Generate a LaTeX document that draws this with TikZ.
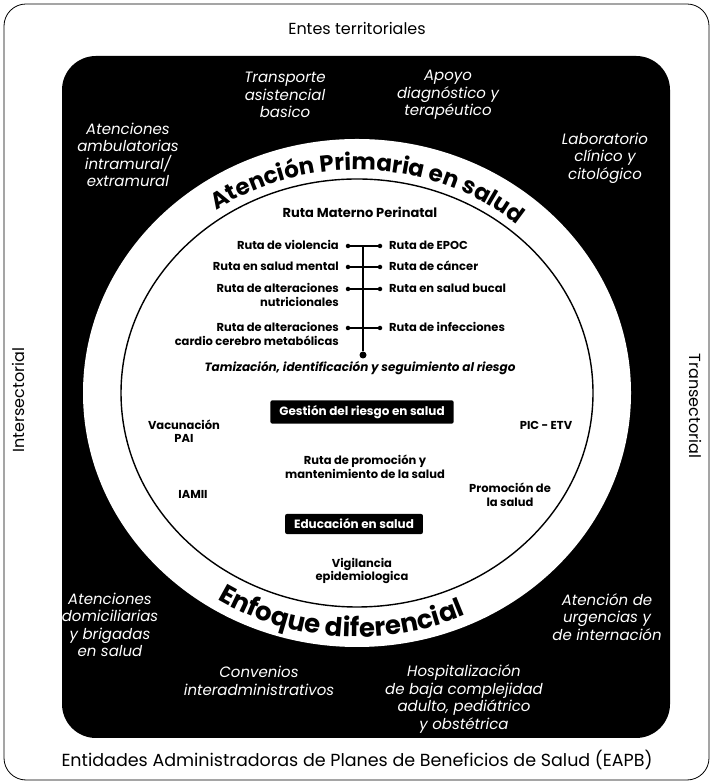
\documentclass[tikz,border=0pt]{standalone}
\usepackage{fontspec}
\setmainfont{Poppins}
\usetikzlibrary{decorations.text}

\begin{document}
\begin{tikzpicture}[x=1pt,y=1pt,
    whitelabel/.style={text=white, font=\itshape\fontsize{15}{17.5}\selectfont, align=center},
    ruta/.style={font=\bfseries\fontsize{11.5}{13.5}\selectfont, inner sep=0pt},
    rutadot/.style={circle, fill=black, inner sep=0pt, minimum size=4.5pt},
    blackbox/.style={fill=black, rounded corners=2pt, text=white, font=\bfseries\fontsize{12}{14}\selectfont, inner xsep=9pt, inner ysep=5pt},
    sidelabel/.style={font=\fontsize{16}{18}\selectfont}]

    \useasboundingbox (0,0) rectangle (713,783);
%   frames
    \draw[line width=0.8pt, rounded corners=22pt] (4,3) rectangle (709,779);
    \fill[black, rounded corners=34pt] (62,45) rectangle (670,727);
    \fill[white] (357,390) ellipse [x radius=274, y radius=254];
    \draw[line width=1.4pt] (357,390) ellipse [x radius=236, y radius=214];

%   outer labels
    \node[sidelabel] (entes) at (357,755) {Entes territoriales};
    \node[sidelabel, font=\fontsize{17.5}{19}\selectfont] (eapb) at (357,23) {Entidades Administradoras de Planes de Beneficios de Salud (EAPB)};
    \node[sidelabel, rotate=90] (inter) at (18,383) {Intersectorial};
    \node[sidelabel, rotate=-90] (trans) at (696,377) {Transectorial};

%   services on black
    \node[whitelabel] (transporte) at (285,688) {Transporte\\asistencial\\basico};
    \node[whitelabel] (apoyo) at (448,688) {Apoyo\\diagnóstico y\\terapéutico};
    \node[whitelabel] (ambulatorias) at (128,628) {Atenciones\\ambulatorias\\intramural/\\extramural};
    \node[whitelabel] (laboratorio) at (605,625) {Laboratorio\\clínico y\\citológico};
    \node[whitelabel] (domiciliarias) at (110,158) {Atenciones\\domiciliarias\\y brigadas\\en salud};
    \node[whitelabel] (urgencias) at (607,166) {Atención de\\urgencias y\\de internación};
    \node[whitelabel] (convenios) at (259,102) {Convenios\\interadministrativos};
    \node[whitelabel] (hospital) at (464,84) {Hospitalización\\de baja complejidad\\adulto, pediátrico\\y obstétrica};

%   ring texts
    \path[decorate, decoration={text along path, text align=center,
        text={|\bfseries\fontsize{23}{25}\selectfont|Atención Primaria en salud}}]
        (357,390) ++(147:244pt and 223pt) arc[start angle=147, end angle=27, x radius=244, y radius=223];
    \path[decorate, decoration={text along path, text align=center,
        text={|\bfseries\fontsize{26}{28}\selectfont|Enfoque diferencial}}]
        (357,390) ++(211:262pt and 244pt) arc[start angle=211, end angle=321, x radius=262, y radius=244];

%   routes
    \node[ruta, font=\bfseries\fontsize{13}{15}\selectfont] (materno) at (360,571) {Ruta Materno Perinatal};

    \node[rutadot] (l1) at (348,537) {};
    \node[rutadot] (l2) at (348,516) {};
    \node[rutadot] (l3) at (348,494) {};
    \node[rutadot] (l4) at (348,455) {};
    \node[rutadot] (r1) at (380,537) {};
    \node[rutadot] (r2) at (380,516) {};
    \node[rutadot] (r3) at (380,494) {};
    \node[rutadot] (r4) at (380,455) {};
    \coordinate (spinetop) at (363,537);
    \node[rutadot, minimum size=7pt] (spineend) at (363,428) {};
    \foreach \i in {1,...,4} {
        \draw[line width=1.3pt] (l\i) -- (r\i);
    }
    \draw[line width=2pt] (spinetop) -- (spineend);

    \node[ruta, anchor=base east] (violencia) at (339,533) {Ruta de violencia};
    \node[ruta, anchor=base east] (mental) at (339,512) {Ruta en salud mental};
    \node[ruta, anchor=base east, align=right] (nutri) at (339,476.5) {Ruta de alteraciones\\nutricionales};
    \node[ruta, anchor=base east, align=right] (cardio) at (339,437.5) {Ruta de alteraciones\\cardio cerebro metabólicas};
    \node[ruta, anchor=base west] (epoc) at (389,533) {Ruta de EPOC};
    \node[ruta, anchor=base west] (cancer) at (389,512) {Ruta de cáncer};
    \node[ruta, anchor=base west] (bucal) at (389,490) {Ruta en salud bucal};
    \node[ruta, anchor=base west] (infecciones) at (389,451) {Ruta de infecciones};

    \node[ruta, font=\bfseries\itshape\fontsize{12}{14}\selectfont] (tamizacion) at (360,415) {Tamización, identificación y seguimiento al riesgo};

%   middle
    \node[blackbox] (gestion) at (362,371) {Gestión del riesgo en salud};
    \node[ruta, align=center] (vacunacion) at (184,352) {Vacunación\\PAI};
    \node[ruta] (pic) at (546,358) {PIC - ETV};
    \node[ruta, align=center] (promoruta) at (365,316) {Ruta de promoción y\\mantenimiento de la salud};
    \node[ruta] (iamii) at (193,289) {IAMII};
    \node[ruta, align=center] (promocion) at (510,288) {Promoción de\\la salud};
    \node[blackbox] (educacion) at (354,259) {Educación en salud};
    \node[ruta, align=center] (vigilancia) at (362,212) {Vigilancia\\epidemiologica};

\end{tikzpicture}
\end{document}
